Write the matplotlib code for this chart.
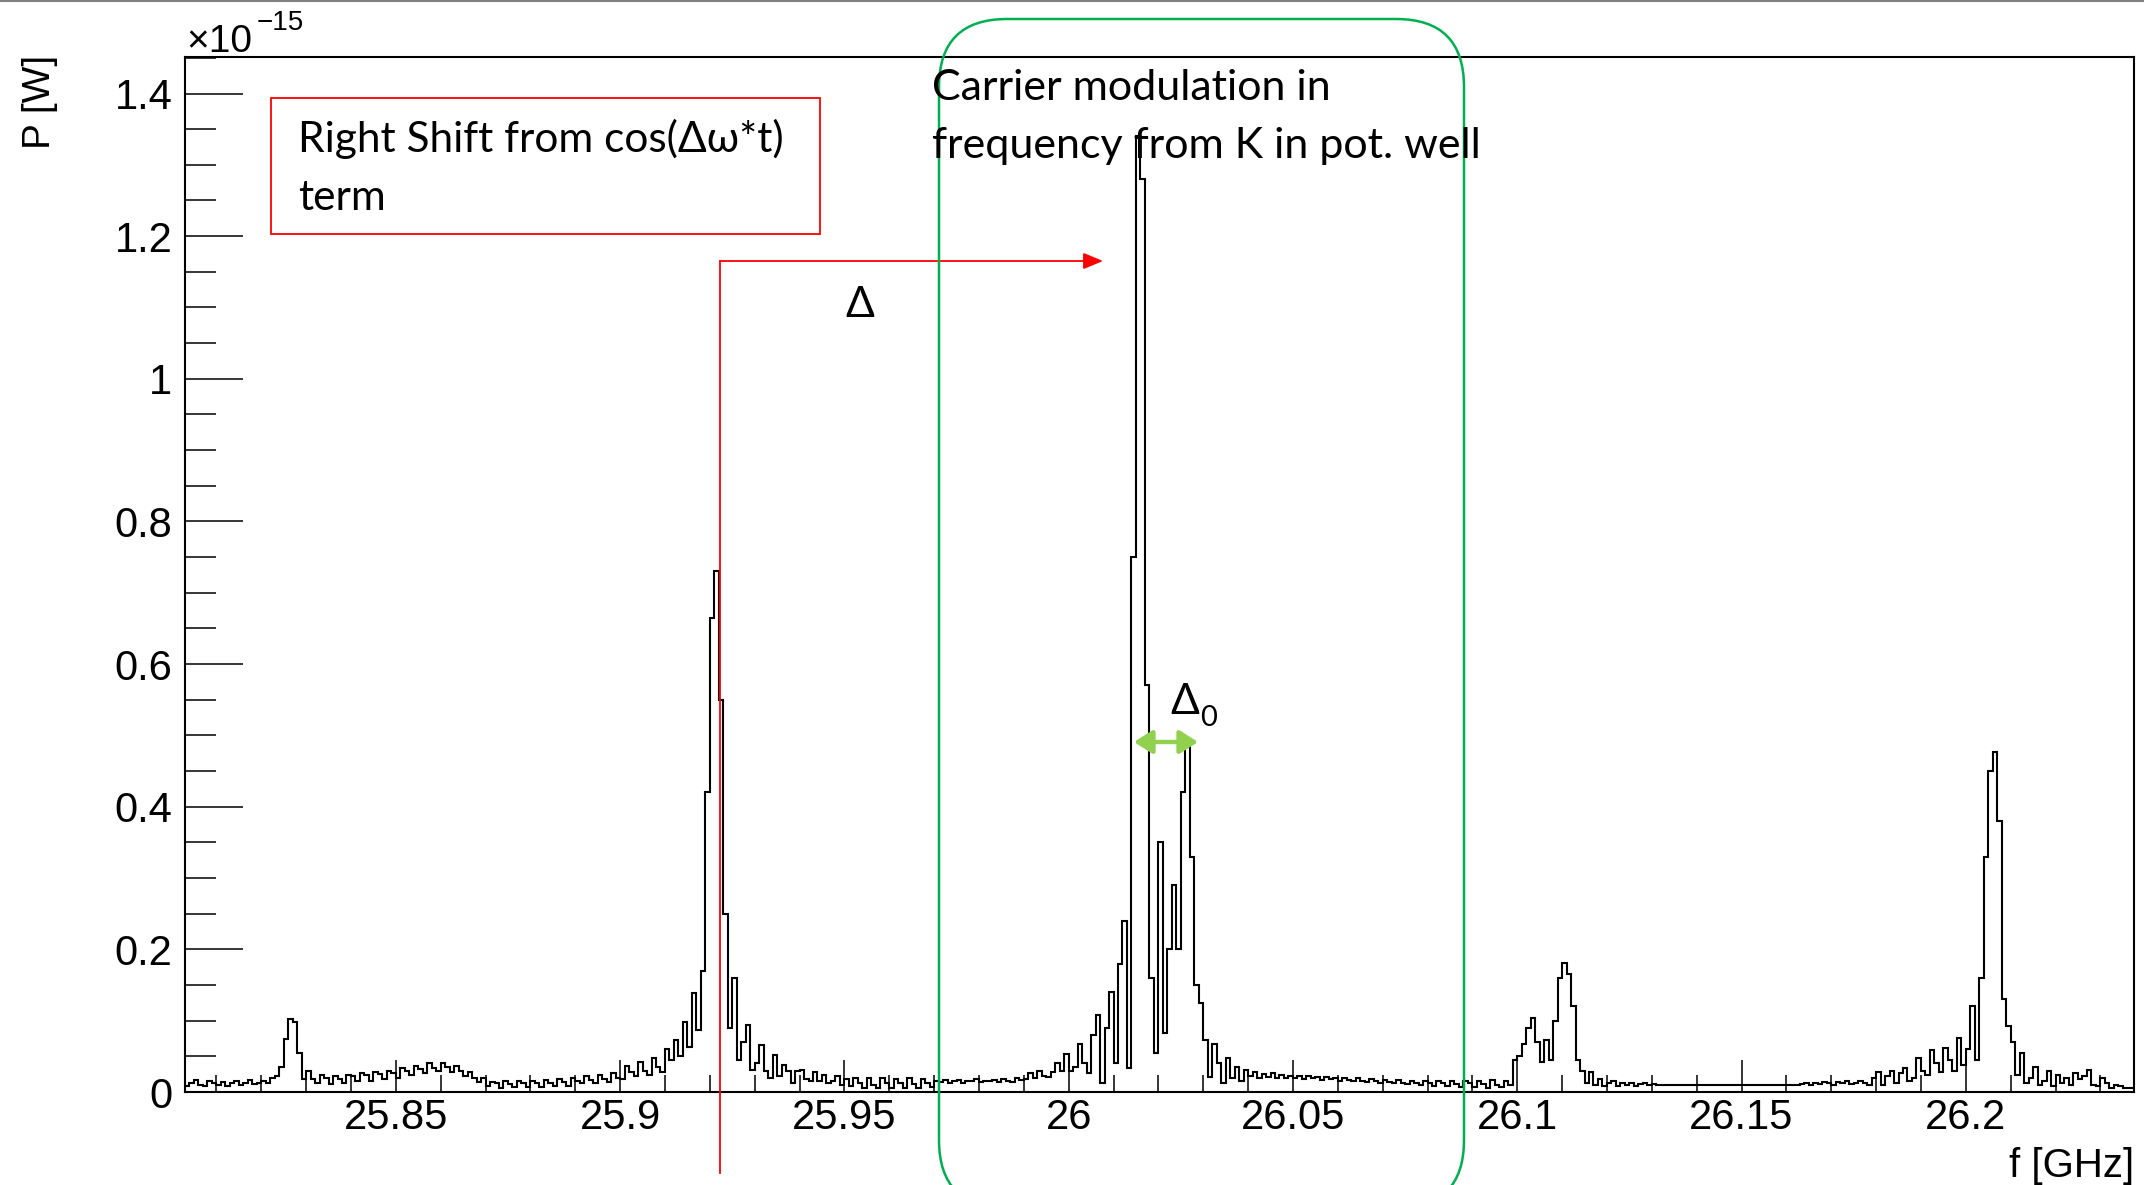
import numpy as np
import matplotlib
matplotlib.use("Agg")
import matplotlib.pyplot as plt
from matplotlib.patches import Rectangle, FancyBboxPatch, FancyArrowPatch
from matplotlib.transforms import IdentityTransform
from matplotlib.lines import Line2D
from matplotlib.ticker import MultipleLocator, FixedLocator, FixedFormatter

# ---------------- data (power in units of 1e-15 W, 1 MHz bins) ----------------
f_start = 25.800       # GHz, lower edge of first bin
bin_width = 0.001      # GHz

power_2580_2590 = [
    0.012, 0.010, 0.015, 0.008, 0.012, 0.017, 0.010, 0.008, 0.015, 0.012,
    0.010, 0.014, 0.009, 0.013, 0.016, 0.010, 0.012, 0.017, 0.011, 0.013,
    0.015, 0.012, 0.020, 0.022, 0.035, 0.075, 0.103, 0.098, 0.055, 0.018,
    0.030, 0.018, 0.012, 0.024, 0.020, 0.011, 0.022, 0.018, 0.012, 0.024,
    0.022, 0.015, 0.027, 0.024, 0.016, 0.028, 0.025, 0.018, 0.030, 0.026,
    0.020, 0.033, 0.030, 0.024, 0.036, 0.032, 0.027, 0.040, 0.034, 0.030,
    0.041, 0.035, 0.028, 0.036, 0.030, 0.022, 0.028, 0.020, 0.014, 0.020,
    0.008, 0.014, 0.012, 0.006, 0.015, 0.011, 0.007, 0.015, 0.012, 0.007,
    0.016, 0.012, 0.007, 0.017, 0.013, 0.008, 0.018, 0.014, 0.009, 0.019,
    0.015, 0.012, 0.022, 0.017, 0.013, 0.024, 0.018, 0.014, 0.026, 0.020,
]
power_2590_2600 = [
    0.018, 0.036, 0.028, 0.022, 0.042, 0.030, 0.024, 0.048, 0.035, 0.028,
    0.060, 0.045, 0.073, 0.050, 0.098, 0.063, 0.139, 0.087, 0.170, 0.420,
    0.665, 0.730, 0.550, 0.250, 0.090, 0.160, 0.045, 0.070, 0.094, 0.031,
    0.040, 0.066, 0.030, 0.020, 0.052, 0.022, 0.038, 0.030, 0.012, 0.030,
    0.031, 0.018, 0.015, 0.028, 0.016, 0.024, 0.013, 0.015, 0.022, 0.010,
    0.018, 0.008, 0.020, 0.012, 0.006, 0.020, 0.010, 0.006, 0.019, 0.012,
    0.006, 0.018, 0.012, 0.005, 0.019, 0.011, 0.006, 0.018, 0.012, 0.007,
    0.016, 0.014, 0.017, 0.013, 0.015, 0.017, 0.013, 0.016, 0.015, 0.018,
    0.014, 0.016, 0.015, 0.017, 0.014, 0.018, 0.016, 0.014, 0.020, 0.017,
    0.018, 0.026, 0.020, 0.030, 0.022, 0.021, 0.028, 0.040, 0.030, 0.053,
]
power_2600_2610 = [
    0.030, 0.035, 0.068, 0.040, 0.026, 0.080, 0.108, 0.012, 0.090, 0.140,
    0.040, 0.180, 0.240, 0.034, 0.750, 1.340, 1.280, 0.570, 0.160, 0.054,
    0.350, 0.083, 0.200, 0.290, 0.200, 0.420, 0.484, 0.330, 0.150, 0.125,
    0.073, 0.021, 0.068, 0.040, 0.012, 0.047, 0.020, 0.035, 0.015, 0.031,
    0.022, 0.028, 0.020, 0.025, 0.021, 0.026, 0.020, 0.024, 0.020, 0.023,
    0.019, 0.023, 0.018, 0.022, 0.019, 0.021, 0.017, 0.021, 0.018, 0.020,
    0.016, 0.020, 0.017, 0.015, 0.019, 0.016, 0.014, 0.018, 0.015, 0.013,
    0.017, 0.014, 0.012, 0.017, 0.013, 0.011, 0.016, 0.013, 0.010, 0.016,
    0.012, 0.009, 0.016, 0.012, 0.008, 0.016, 0.011, 0.007, 0.015, 0.012,
    0.007, 0.016, 0.011, 0.006, 0.017, 0.010, 0.007, 0.016, 0.010, 0.045,
]
power_2610_2620 = [
    0.050, 0.068, 0.090, 0.104, 0.070, 0.042, 0.073, 0.045, 0.100, 0.160,
    0.181, 0.165, 0.120, 0.045, 0.030, 0.012, 0.028, 0.010, 0.018, 0.008,
    0.012, 0.015, 0.008, 0.013, 0.010, 0.012, 0.009, 0.011, 0.013, 0.010,
    0.011, 0.010, 0.010, 0.010, 0.010, 0.010, 0.010, 0.010, 0.010, 0.010,
    0.010, 0.010, 0.010, 0.010, 0.010, 0.010, 0.010, 0.010, 0.010, 0.010,
    0.010, 0.010, 0.010, 0.010, 0.010, 0.010, 0.010, 0.010, 0.010, 0.010,
    0.010, 0.010, 0.010, 0.011, 0.012, 0.010, 0.013, 0.011, 0.014, 0.012,
    0.010, 0.014, 0.012, 0.015, 0.011, 0.013, 0.016, 0.012, 0.010, 0.020,
    0.028, 0.010, 0.022, 0.030, 0.012, 0.026, 0.034, 0.015, 0.020, 0.047,
    0.030, 0.024, 0.059, 0.040, 0.028, 0.062, 0.045, 0.030, 0.076, 0.038,
]
power_2620_2624 = [
    0.060, 0.120, 0.045, 0.160, 0.330, 0.450, 0.477, 0.380, 0.130, 0.092,
    0.070, 0.024, 0.055, 0.012, 0.020, 0.035, 0.010, 0.015, 0.030, 0.008,
    0.024, 0.012, 0.020, 0.010, 0.027, 0.018, 0.022, 0.031, 0.010, 0.008,
    0.020, 0.012, 0.006, 0.010, 0.008, 0.005, 0.006, 0.005, 0.005, 0.005,
]

x_ticks = [25.85, 25.90, 25.95, 26.00, 26.05, 26.10, 26.15, 26.20]
x_tick_labels = ["25.85", "25.9", "25.95", "26", "26.05", "26.1", "26.15", "26.2"]
y_ticks = [0.0, 0.2, 0.4, 0.6, 0.8, 1.0, 1.2, 1.4]
y_tick_labels = ["0", "0.2", "0.4", "0.6", "0.8", "1", "1.2", "1.4"]
x_range = (25.803, 26.2375)
y_range = (0.0, 1.4512)

# ---------------- figure ----------------
W, H = 2144, 1185
fig = plt.figure(figsize=(W / 100, H / 100), dpi=100)
fig.patch.set_facecolor("white")


def fpt(x, y):
    """pixel (from top-left) -> figure fraction"""
    return x / W, 1 - y / H


ax = fig.add_axes([185 / W, 1 - 1092 / H, (2134 - 185) / W, (1092 - 57) / H])

power = np.concatenate([power_2580_2590, power_2590_2600, power_2600_2610,
                        power_2610_2620, power_2620_2624])
edges = f_start + bin_width * np.arange(len(power) + 1)
ax.stairs(power, edges, color="black", lw=1.5, baseline=None)

ax.set_xlim(*x_range)
ax.set_ylim(*y_range)

tick_font = "Liberation Sans"
ax.xaxis.set_major_locator(FixedLocator(x_ticks))
ax.xaxis.set_major_formatter(FixedFormatter(x_tick_labels))
ax.xaxis.set_minor_locator(MultipleLocator(0.01))
ax.yaxis.set_major_locator(FixedLocator(y_ticks))
ax.yaxis.set_major_formatter(FixedFormatter(y_tick_labels))
ax.yaxis.set_minor_locator(MultipleLocator(0.05))

ax.tick_params(axis="x", which="major", direction="in", length=23, width=1.1,
               pad=4, labelsize=30, top=False)
ax.tick_params(axis="x", which="minor", direction="in", length=12, width=1.1, top=False)
ax.tick_params(axis="y", which="major", direction="in", length=42, width=1.1,
               pad=9, labelsize=30, right=False)
ax.tick_params(axis="y", which="minor", direction="in", length=22, width=1.1, right=False)
for lab in ax.get_xticklabels() + ax.get_yticklabels():
    lab.set_family(tick_font)
for sp in ax.spines.values():
    sp.set_linewidth(1.5)

# axis titles and exponent
fig.text(*fpt(40, 55), "P [W]", rotation=90, ha="center", va="top",
         fontsize=28, family=tick_font)
fig.text(*fpt(2134, 1177), "f [GHz]", ha="right", va="baseline",
         fontsize=29, family=tick_font)
fig.text(*fpt(186, 52), "×10", ha="left", va="baseline", fontsize=28, family=tick_font)
fig.text(*fpt(257, 30), "−15", ha="left", va="baseline", fontsize=20, family=tick_font)

# top grey border of the image
fig.add_artist(Line2D([0, 1], [1 - 1 / H, 1 - 1 / H], transform=fig.transFigure,
                      color="#808080", lw=1.5))

# ---------------- annotations ----------------
ann_font = ["Lato", "DejaVu Sans"]
ann_size = 30.5
red = "#FF0000"

fig.add_artist(Rectangle(fpt(271, 234), (820 - 271) / W, (234 - 98) / H,
                         transform=fig.transFigure, fill=False, ec=red, lw=1.3))
fig.text(*fpt(298, 152), "Right Shift from cos(Δω*t)", ha="left", va="baseline",
         fontsize=ann_size, family=ann_font)
fig.text(*fpt(298, 210), "term", ha="left", va="baseline", fontsize=ann_size,
         family=ann_font)

fig.add_artist(Line2D([720 / W, 720 / W], [1 - 261 / H, 1 - 1173 / H],
                      transform=fig.transFigure, color=red, lw=1.3))
fig.add_artist(FancyArrowPatch(fpt(720, 261), fpt(1103, 261), transform=fig.transFigure,
                               arrowstyle="-|>,head_length=0.6,head_width=0.25",
                               mutation_scale=20, color=red, lw=1.3,
                               shrinkA=0, shrinkB=0))
fig.text(*fpt(845, 317), "Δ", ha="left", va="baseline", fontsize=ann_size,
         family=ann_font)

fig.add_artist(FancyBboxPatch((939, H - 1208), 1464 - 939, 1208 - 19,
                              boxstyle="round,pad=0,rounding_size=68",
                              transform=IdentityTransform(), fill=False,
                              ec="#00B050", lw=1.8))
fig.text(*fpt(932, 100), "Carrier modulation in", ha="left", va="baseline",
         fontsize=31, family=ann_font)
fig.text(*fpt(932, 158), "frequency from K in pot. well", ha="left", va="baseline",
         fontsize=31, family=ann_font)

fig.add_artist(FancyArrowPatch(fpt(1134, 742), fpt(1198, 742), transform=fig.transFigure,
                               arrowstyle="<|-|>,head_length=0.55,head_width=0.35",
                               mutation_scale=20, color="#92D050", lw=3.2,
                               shrinkA=0, shrinkB=0))
fig.text(*fpt(1170, 714), "Δ", ha="left", va="baseline", fontsize=ann_size,
         family=ann_font)
fig.text(*fpt(1200, 726), "0", ha="left", va="baseline", fontsize=21, family=ann_font)

fig.savefig("out.png", dpi=100)
